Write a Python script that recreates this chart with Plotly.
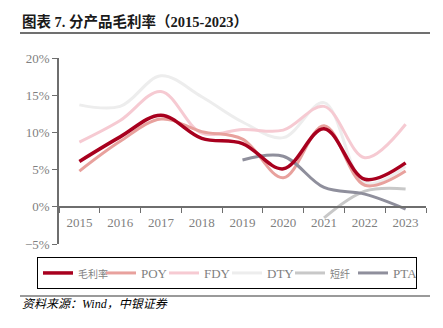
import plotly.graph_objects as go

years = ["2015", "2016", "2017", "2018", "2019", "2020", "2021", "2022", "2023"]
gross = [6.1, 9.4, 12.3, 9.2, 8.5, 5.1, 10.5, 3.7, 5.9]
poy = [4.8, 8.8, 11.8, 10.1, 9.1, 3.9, 10.9, 2.9, 4.8]
fdy = [8.7, 11.6, 15.5, 9.9, 10.4, 10.3, 13.5, 6.6, 11.1]
dty = [13.7, 13.5, 17.6, 14.8, 11.4, 9.3, 14.0, 3.2, 5.4]
psf_years = ["2021", "2022", "2023"]
psf = [-1.5, 2.1, 2.4]
pta_years = ["2019", "2020", "2021", "2022", "2023"]
pta = [6.3, 6.8, 2.6, 1.7, -0.3]

cjk_small = "<span style='font-size:10px'>{}</span>"

series = [
    # name, x, y, color, width, legendrank
    ("DTY", years, dty, "#EDEDED", 3, 4),
    ("FDY", years, fdy, "#F6CAD2", 3, 3),
    (cjk_small.format("短纤"), psf_years, psf, "#C8C8C8", 3, 5),
    ("POY", years, poy, "#E8A19D", 3, 2),
    ("PTA", pta_years, pta, "#8F8F9C", 3, 6),
    (cjk_small.format("毛利率"), years, gross, "#A8001E", 3.5, 1),
]

fig = go.Figure()
for name, xs, ys, color, w, rank in series:
    fig.add_trace(go.Scatter(
        x=xs, y=ys, name=name, mode="lines",
        line=dict(color=color, width=w, shape="spline", smoothing=1),
        legendrank=rank,
    ))

serif = "Liberation Serif, Times New Roman, Noto Sans CJK SC, serif"
L, R, T, B = 59, 17, 58, 84
pw, ph = 443 - L - R, 328 - T - B

def px(x):
    return (x - L) / pw

def py(y):
    return (328 - B - y) / ph

fig.update_layout(
    width=443, height=328,
    margin=dict(l=L, r=R, t=T, b=B),
    paper_bgcolor="white", plot_bgcolor="white",
    font=dict(family=serif, size=13, color="#7F7F7F"),
    showlegend=True,
    legend=dict(
        orientation="h", x=px(37), y=py(257), xanchor="left", yanchor="top",
        bordercolor="#000000", borderwidth=1,
        font=dict(family=serif, size=13, color="#7F7F7F"),
        entrywidth=18, entrywidthmode="pixels", itemwidth=30,
        tracegroupgap=0,
    ),
    xaxis=dict(
        type="category", categoryorder="array", categoryarray=years,
        range=[-0.5, 8.5], anchor="free", position=0.2,
        showline=True, linecolor="#6E6E6E", linewidth=1.5,
        ticks="outside", tickson="boundaries", ticklen=5, tickcolor="#6E6E6E",
        ticklabelstandoff=4,
        showgrid=False, zeroline=False,
        tickfont=dict(family=serif, size=13, color="#7F7F7F"),
    ),
    yaxis=dict(
        range=[-5, 20], dtick=5, ticksuffix="%",
        showline=True, linecolor="#6E6E6E", linewidth=1.5,
        ticks="outside", ticklen=5, tickcolor="#6E6E6E",
        showgrid=False, zeroline=False,
        tickfont=dict(family=serif, size=13, color="#7F7F7F"),
    ),
    shapes=[
        dict(type="line", xref="paper", yref="paper", x0=px(20), x1=px(430),
             y0=py(33), y1=py(33), line=dict(color="#404040", width=1.5)),
        dict(type="line", xref="paper", yref="paper", x0=px(20), x1=px(430),
             y0=py(296), y1=py(296), line=dict(color="#9A9A9A", width=2)),
    ],
    annotations=[
        dict(text="<b>图表 7. 分产品毛利率（2015-2023）</b>", xref="paper", yref="paper",
             x=px(20), y=py(22), xanchor="left", yanchor="middle", showarrow=False,
             font=dict(family=serif, size=14.5, color="#1A1A1A")),
        dict(text="<i>资料来源：Wind，中银证券</i>", xref="paper", yref="paper",
             x=px(20), y=py(304), xanchor="left", yanchor="middle", showarrow=False,
             font=dict(family=serif, size=12, color="#000000")),
    ],
)

fig.write_html("out.html")
